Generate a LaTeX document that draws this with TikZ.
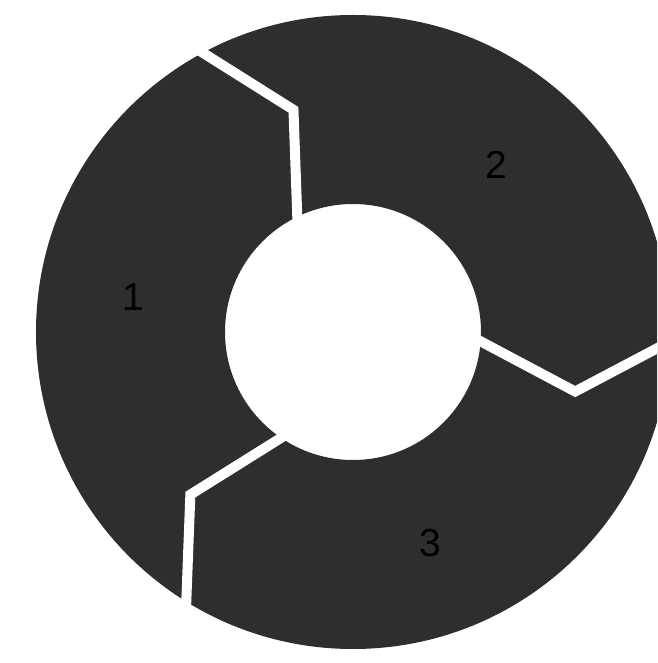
\documentclass[tikz,border=0pt]{standalone}
\usepackage{fontspec}
\setmainfont{Liberation Sans}
\usepackage{tikz}
\usetikzlibrary{calc}
\usepackage{xcolor}
\definecolor{ringgray}{RGB}{46,46,46}

\begin{document}
\begin{tikzpicture}[x=1pt, y=1pt,
    gap/.style={white, line width=10pt, line join=miter},
    steplabel/.style={font=\fontsize{39}{39}\selectfont, text=black, inner sep=0pt}]

    % 1. Fix the frame (the ring runs past the right edge)
    \useasboundingbox (-353,-331) rectangle (304,332);
    \clip (-353,-331) rectangle (304,332);

    % 2. Centre and the ring
    \coordinate (O) at (0,0);
    \fill[ringgray, even odd rule] (O) circle (317) (O) circle (128);

    % 3. White chevron gaps between the three parts
    \foreach \ang in {0, 120, 240} {
        \draw[gap] ($(O)+(\ang:335)$) -- ($(O)+(\ang-15:230)$) -- ($(O)+(\ang:110)$);
    }

    % 4. Labels
    \node[steplabel] (one)   at (-220, 35) {1};
    \node[steplabel] (two)   at (143, 167) {2};
    \node[steplabel] (three) at (77, -211) {3};

\end{tikzpicture}
\end{document}
